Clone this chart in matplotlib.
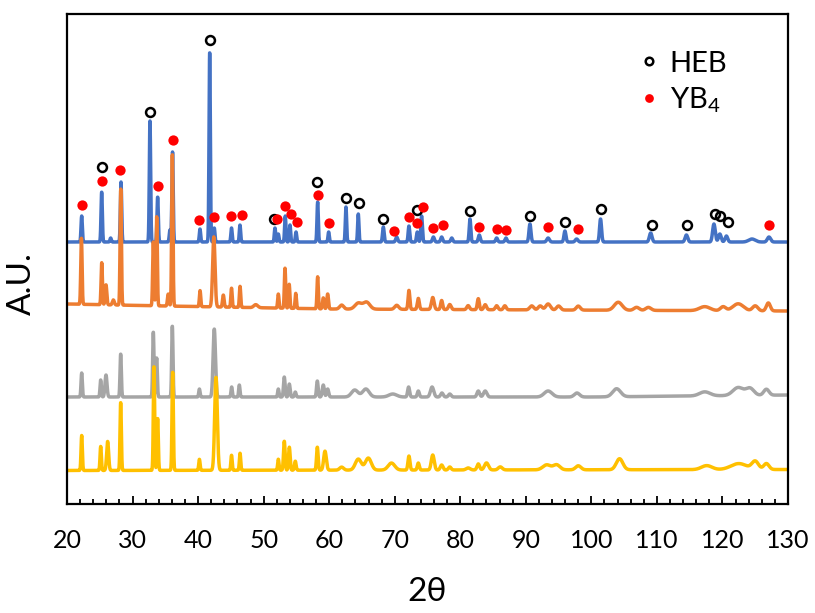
import numpy as np
import matplotlib
matplotlib.use("Agg")
import matplotlib.pyplot as plt

plt.rcParams['font.family'] = ['Lato', 'DejaVu Sans']
plt.rcParams['mathtext.fontset'] = 'custom'
plt.rcParams['mathtext.rm'] = 'Lato'
plt.rcParams['mathtext.it'] = 'Lato:italic'

# ---- data: (2theta, height, width) per peak ----
blue_peaks = [(22.24, 26, .1), (25.29, 50, .1), (26.66, 4, .1), (28.24, 60, .1),
              (32.66, 121, .1), (33.83, 45, .1), (35.7, 12, .1), (36.1, 90, .1),
              (40.29, 13, .1), (41.77, 190, .1), (42.47, 14, .1), (45.1, 14, .1),
              (46.39, 17, .1), (51.73, 14, .1), (52.24, 8, .1), (53.3, 26, .1),
              (54.02, 17, .1), (54.94, 10, .1), (58.24, 40, .1), (59.92, 10, .1),
              (62.56, 35, .1), (64.44, 28, .1), (68.26, 15, .12), (70.3, 5, .15),
              (72.17, 16, .12), (73.44, 10, .12), (74.1, 26, .12), (75.9, 5, .15),
              (77.16, 5, .15), (78.7, 4, .15), (81.48, 23, .12), (82.9, 7, .15),
              (85.55, 4, .15), (86.97, 4, .15), (90.63, 18, .15), (93.4, 4, .2),
              (95.97, 11, .15), (97.75, 3, .2), (101.4, 23, .15), (109.05, 9, .2),
              (114.5, 7, .2), (118.7, 18, .2), (119.6, 8, .2), (120.6, 6, .2),
              (124.5, 3, .5), (127.1, 5, .25)]
orange_peaks = [(22.2, 66, .1), (25.3, 42, .1), (25.95, 20, .12), (27.07, 5, .15),
                (28.2, 116, .1), (33.17, 64, .1), (33.68, 89, .1), (35.45, 12, .12),
                (36.07, 152, .1), (40.3, 16, .1), (42.4, 70, .18), (43.85, 12, .12),
                (45.1, 19, .1), (46.4, 21, .1), (48.8, 3, .3), (52.24, 14, .1),
                (53.26, 40, .1), (53.9, 24, .1), (54.9, 15, .1), (58.24, 32, .1),
                (59.1, 11, .12), (59.77, 15, .12), (61.9, 4, .3), (64.44, 6, .5),
                (65.7, 7, .5), (70.3, 4, .3), (72.17, 19, .13), (73.6, 11, .15),
                (75.8, 12, .2), (77.16, 9, .15), (78.4, 5, .2), (81.2, 4, .2),
                (82.75, 11, .15), (83.8, 5, .2), (85.55, 4, .2), (86.8, 4, .2),
                (90.9, 4, .3), (92.2, 4, .3), (93.4, 6, .35), (95.0, 4, .3),
                (98.0, 4, .3), (104.1, 8, .6), (106.9, 3, .4), (108.7, 3, .4),
                (117.3, 4, .8), (120.1, 4, .4), (122.4, 7, .8), (125.0, 5, .4),
                (127.0, 8, .3)]
gray_peaks = [(22.24, 24, .1), (25.14, 17, .1), (25.95, 22, .15), (28.19, 43, .1),
              (33.17, 65, .1), (33.68, 39, .1), (36.07, 71, .1), (40.2, 8, .1),
              (42.47, 68, .18), (45.12, 10, .1), (46.29, 12, .1), (52.24, 8, .1),
              (53.15, 20, .12), (53.92, 13, .12), (54.83, 5, .12), (58.19, 16, .12),
              (59.1, 12, .15), (59.77, 8, .15), (63.9, 7, .5), (65.6, 8, .5),
              (69.7, 3, .6), (72.12, 10, .15), (73.6, 6, .15), (75.7, 10, .25),
              (77.2, 4, .2), (78.4, 3, .2), (82.75, 6, .2), (83.8, 6, .25),
              (93.4, 6, .6), (97.8, 4, .4), (103.85, 8, .6), (117.3, 4, .8),
              (122.4, 8, .8), (124.2, 7, .6), (126.7, 6, .4)]
yellow_peaks = [(22.24, 35, .1), (25.14, 24, .1), (26.2, 29, .15), (28.19, 68, .1),
                (33.27, 104, .1), (33.83, 52, .1), (36.12, 98, .1), (40.2, 11, .1),
                (42.73, 93, .2), (45.1, 15, .1), (46.4, 17, .1), (52.24, 11, .1),
                (53.15, 29, .12), (53.92, 23, .12), (54.83, 9, .12), (58.19, 23, .12),
                (59.36, 19, .2), (61.9, 3, .3), (64.44, 11, .45), (65.97, 12, .45),
                (69.5, 7, .5), (72.17, 14, .15), (73.6, 7, .15), (75.8, 15, .22),
                (77.16, 5, .2), (78.4, 3, .2), (81.2, 2, .3), (82.75, 6, .2),
                (84.0, 7, .3), (86.1, 3, .3), (93.2, 5, .6), (94.7, 5, .5),
                (98.0, 4, .4), (104.3, 11, .5), (117.6, 4, .8), (122.5, 6, 1.2),
                (125.0, 8, .5), (126.7, 6, .4)]

# baseline levels (2theta, level)
blue_base = ([20, 130], [262, 262])
orange_base = ([20, 35, 60, 130], [200, 198, 195, 193])
gray_base = ([20, 100, 130], [107, 107, 109])
yellow_base = ([20, 130], [33.5, 34.5])

# reference markers (2theta, level)
heb_x = [25.39, 32.66, 41.77, 51.63, 58.19, 62.56, 64.59, 68.25, 73.35, 81.48,
         90.63, 95.97, 101.46, 109.29, 114.54, 118.86, 119.63, 120.79]
heb_y = [337, 392, 464, 285, 322, 306, 301, 285, 294, 293, 288, 282, 295, 279,
         279, 290, 288, 282]
yb4_x = [22.24, 25.29, 28.09, 33.84, 36.13, 40.14, 42.47, 45.02, 46.7, 52.08,
         53.3, 54.17, 55.13, 58.25, 59.92, 69.89, 72.17, 73.35, 74.36, 75.88,
         77.41, 82.85, 85.55, 86.97, 93.43, 98.0, 127.14]
yb4_y = [299, 323, 334, 318, 364, 284, 287, 288, 289, 285, 298, 290, 282, 309,
         281, 273, 287, 281, 297, 276, 279, 277, 275, 274, 277, 275, 279]

xticks = list(range(20, 131, 10))

colors = {'blue': '#4472C4', 'orange': '#ED7D31', 'gray': '#A5A5A5', 'yellow': '#FFC000'}

tt = np.linspace(20, 130, 5501)


def pattern(peaks, base):
    y = np.interp(tt, base[0], base[1])
    for p, h, w in peaks:
        y = y + h * np.exp(-0.5 * ((tt - p) / w) ** 2)
    return y


fig = plt.figure(figsize=(8.15, 6.13), dpi=100)
ax = fig.add_axes([67 / 815, 1 - 504 / 613, 721 / 815, 490 / 613])

for peaks, base, c in [(blue_peaks, blue_base, 'blue'), (orange_peaks, orange_base, 'orange'),
                       (gray_peaks, gray_base, 'gray'), (yellow_peaks, yellow_base, 'yellow')]:
    ax.plot(tt, pattern(peaks, base), color=colors[c], lw=2.5, solid_joinstyle='round')

ax.plot(heb_x, heb_y, 'o', ms=6.4, mfc='none', mec='black', mew=1.8, label='HEB', zorder=5)
ax.plot(yb4_x, yb4_y, 'o', ms=7.4, mfc='#FF0000', mec='none', label='YB$_4$', zorder=5)

ax.set_xlim(20, 130)
ax.set_ylim(0, 490)
ax.set_yticks([])
ax.set_xticks(xticks)
ax.set_xticks(np.arange(20, 131, 2), minor=True)
ax.tick_params(axis='x', which='major', direction='in', length=6, width=1.3,
               labelsize=18, pad=18)
ax.tick_params(axis='x', which='minor', direction='in', length=3.5, width=1.3)
for s in ax.spines.values():
    s.set_linewidth(1.6)
    s.set_color('black')

ax.set_xlabel('2θ', fontsize=24)
ax.xaxis.set_label_coords(0.5, -0.18)
ax.xaxis.label.set_verticalalignment('center')
ax.set_ylabel('A.U.', fontsize=24)
ax.yaxis.set_label_coords(-0.042, 0.45)

ax.legend(loc='upper left', bbox_to_anchor=(0.777, 0.955), frameon=False, fontsize=21,
          handlelength=0.5, handletextpad=0.45, labelspacing=0.3, markerscale=0.85,
          borderpad=0)

fig.savefig('out.png', dpi=100)
